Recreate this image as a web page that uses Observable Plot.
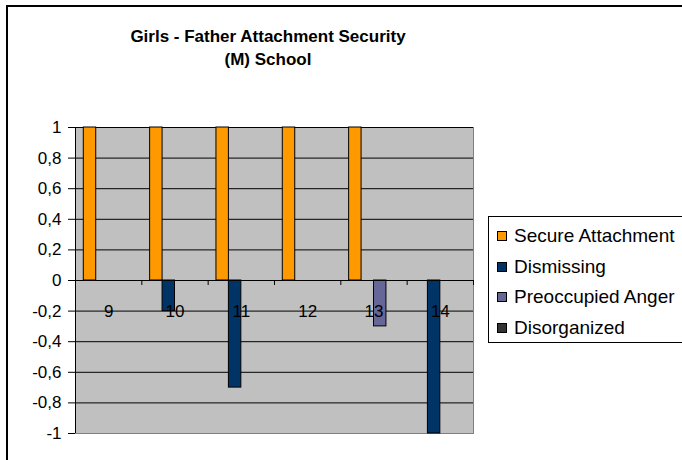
<!DOCTYPE html>
<html>
<head>
<meta charset="utf-8">
<script src="https://cdn.jsdelivr.net/npm/d3@7"></script>
<script src="https://cdn.jsdelivr.net/npm/@observablehq/plot@0.6"></script>
<style>
  html, body { margin: 0; padding: 0; background: #fff; }
  #wrap { position: relative; width: 682px; height: 460px; overflow: hidden; background: #fff;
          font-family: "Liberation Sans", Arial, sans-serif; }
  #border { position: absolute; left: 6px; top: 5px; width: 800px; height: 600px; border: 2px solid #000; }
  #title { position: absolute; left: 68px; width: 400px; top: 25px; text-align: center;
           font-weight: bold; font-size: 17px; line-height: 23px; color: #000; }
  #chart { position: absolute; left: 0; top: 0; }
  #legend { position: absolute; left: 488px; top: 216px; width: 240px; height: 125px;
            border: 1px solid #000; background: #fff; }
  .item { position: absolute; left: 8px; height: 22px; display: flex; align-items: center;
          font-size: 19px; color: #000; white-space: nowrap; }
  .sw { width: 8px; height: 8px; border: 1px solid #000; margin-right: 7px; }
</style>
</head>
<body>
<div id="wrap">
  <div id="border"></div>
  <div id="chart"></div>
  <div id="title">Girls - Father Attachment Security<br>(M) School</div>
  <div id="legend"></div>
</div>
<script>
const ages = [9, 10, 11, 12, 13, 14];
const seriesNames = ["Secure Attachment", "Dismissing", "Preoccupied Anger", "Disorganized"];
const seriesColors = ["#ff9900", "#003366", "#666699", "#333333"];
const secure = [1, 1, 1, 1, 1, 0];
const dismissing = [0, -0.2, -0.7, 0, 0, -1];
const preoccupied = [0, 0, 0, 0, -0.3, 0];
const disorganized = [0, 0, 0, 0, 0, 0];
const yTicks = [-1, -0.8, -0.6, -0.4, -0.2, 0, 0.2, 0.4, 0.6, 0.8, 1];

const seriesValues = [secure, dismissing, preoccupied, disorganized];
const gap = 0.125, barW = 0.1875;
const rows = [];
seriesValues.forEach((vals, j) => {
  vals.forEach((v, i) => {
    const x1 = i + gap + j * barW;
    rows.push({age: ages[i], series: seriesNames[j], value: v, x1, x2: x1 + barW});
  });
});
const labels = ages.map((a, i) => ({age: a, pos: i + 0.5}));
const bounds = d3.range(ages.length + 1);

const fmt = d => String(d).replace(".", ",");

const chart = Plot.plot({
  width: 682,
  height: 460,
  marginLeft: 75,
  marginRight: 209,
  marginTop: 127,
  marginBottom: 27,
  style: {fontFamily: "Liberation Sans, Arial, sans-serif", fontSize: "16px", background: "transparent"},
  x: {type: "linear", domain: [0, ages.length], axis: null},
  y: {domain: [-1, 1], axis: null},
  color: {domain: seriesNames, range: seriesColors},
  marks: [
    Plot.frame({fill: "#c0c0c0", stroke: "#808080"}),
    Plot.ruleY(yTicks.filter(t => t > -1), {stroke: "#000", strokeWidth: 1}),
    Plot.rectY(rows.filter(d => d.value !== 0), {
      x1: "x1", x2: "x2", y1: 0, y2: "value", fill: "series", stroke: "#000", strokeWidth: 1
    }),
    Plot.ruleX(bounds, {x: d => d, y1: 0, y2: 0, insetBottom: -5, stroke: "#000"}),
    Plot.ruleX([0], {stroke: "#000"}),
    Plot.ruleY([0], {stroke: "#000"}),
    Plot.ruleY(yTicks, {y: d => d, x1: 0, x2: 0, insetLeft: -7, stroke: "#000"}),
    Plot.text(yTicks, {
      x: 0, y: d => d, text: fmt, textAnchor: "end", dx: -14, fontSize: 17, fill: "#000"
    }),
    Plot.text(labels, {x: "pos", y: -0.2, text: d => String(d.age), fontSize: 17, fill: "#000"})
  ]
});
document.getElementById("chart").appendChild(chart);

const legend = document.getElementById("legend");
seriesNames.forEach((name, i) => {
  const it = document.createElement("div");
  it.className = "item";
  it.style.top = (8 + i * 30.7) + "px";
  const sw = document.createElement("span");
  sw.className = "sw";
  sw.style.background = seriesColors[i];
  it.appendChild(sw);
  it.appendChild(document.createTextNode(name));
  legend.appendChild(it);
});
</script>
</body>
</html>
